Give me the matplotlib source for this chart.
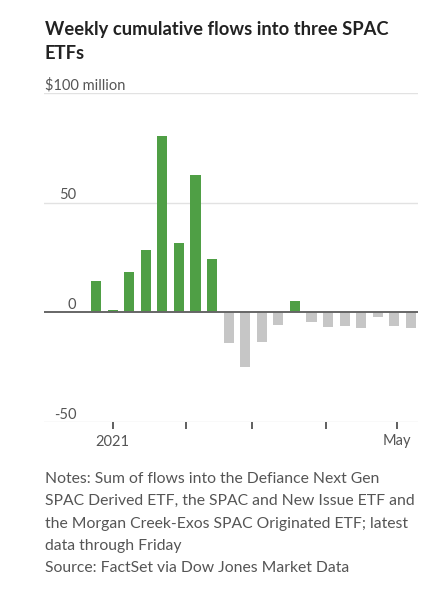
import datetime as dt
import matplotlib
matplotlib.use("Agg")
import matplotlib.pyplot as plt
import matplotlib.transforms as mtransforms

# weekly flows, $ million, week ending Friday
weeks = [dt.date(2020, 12, 25) + dt.timedelta(days=7 * i) for i in range(20)]
flows = [14.2, 0.9, 18.2, 28.3, 80.3, 31.8, 62.5, 24.4,
         -14.1, -24.8, -13.5, -5.6, 5.1, -4.2, -6.7, -6.1,
         -7.3, -2.1, -6.1, -7.3]
yticks = [-50, 0, 50, 100]
ytick_labels = ["-50", "0", "50", "$100 million"]

title = "Weekly cumulative flows into three SPAC\nETFs"
notes = ("Notes: Sum of flows into the Defiance Next Gen\n"
         "SPAC Derived ETF, the SPAC and New Issue ETF and\n"
         "the Morgan Creek-Exos SPAC Originated ETF; latest\n"
         "data through Friday\n"
         "Source: FactSet via Dow Jones Market Data")

green = "#4f9f45"
grey = "#c6c6c6"
text_col = "#555555"

plt.rcParams["font.family"] = ["Lato", "DejaVu Sans"]

fig = plt.figure(figsize=(4.41, 6.07), dpi=100)
ax = fig.add_axes([44 / 441, 1 - 422 / 607, 374 / 441, 329 / 607])

colors = [green if v > 0 else grey for v in flows]
ax.bar(weeks, flows, width=4.3, color=colors, zorder=2)

ax.set_ylim(-50, 100)
ax.set_xlim(dt.date(2020, 12, 3), dt.date(2021, 5, 10))

for y in yticks:
    if y == 0:
        ax.axhline(0, color="#666666", lw=1.4, zorder=3)
    else:
        ax.axhline(y, color="#e2e2e2", lw=1.0, zorder=1)

for s in ax.spines.values():
    s.set_visible(False)

ax.set_yticks([])
trans = mtransforms.blended_transform_factory(ax.transAxes, ax.transData)
for y, lab in zip(yticks, ytick_labels):
    if y == 100:
        ax.text(0.003, y + 0.2, lab, transform=trans, ha="left", va="bottom",
                fontsize=10.5, color=text_col)
    else:
        ax.text(0.086, y + 0.2, lab, transform=trans, ha="right", va="bottom",
                fontsize=10.5, color=text_col)

ax.set_xticks([dt.date(2021, 1, 1), dt.date(2021, 2, 1), dt.date(2021, 3, 1),
               dt.date(2021, 4, 1), dt.date(2021, 5, 1)])
ax.set_xticklabels(["2021", "", "", "", "May"], fontsize=10.5, color=text_col)
ax.tick_params(axis="x", length=5, width=1.2, color="#444444", pad=4)

fig.text(45 / 441, 1 - 21 / 607, title, ha="left", va="top", fontsize=13.2,
         fontweight="bold", color="#222222", linespacing=1.5)
fig.text(45 / 441, 1 - 472 / 607, notes, ha="left", va="top", fontsize=11.3,
         color=text_col, linespacing=1.76)

fig.savefig("out.png", dpi=100)
